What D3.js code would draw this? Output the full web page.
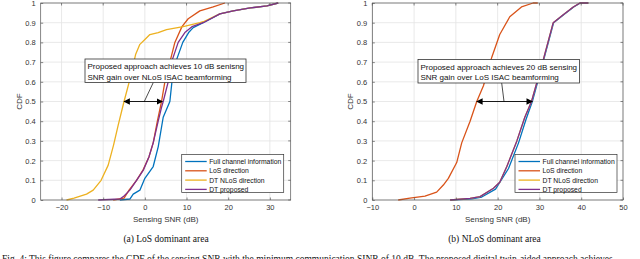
<!DOCTYPE html>
<html>
<head>
<meta charset="utf-8">
<script src="https://cdn.jsdelivr.net/npm/d3@7"></script>
<style>
  body { margin: 0; background: #fff; }
  svg { display: block; font-family: "Liberation Sans", Arial, sans-serif; }
</style>
</head>
<body>
<div id="chart"></div>
<script>
// series names + colours (MATLAB default order)
const seriesNames = ["Full channel information", "LoS direction", "DT NLoS direction", "DT proposed"];
const seriesColors = ["#0072BD", "#D95319", "#EDB120", "#7E2F8E"];

const yTicks = [0, 0.1, 0.2, 0.3, 0.4, 0.5, 0.6, 0.7, 0.8, 0.9, 1];
const xTicksA = [-20, -10, 0, 10, 20, 30];
const xTicksB = [-10, 0, 10, 20, 30, 40, 50];

// (a) LoS dominant area: [SNR dB, CDF]
const fullA = [[-6,0],[-3.6,0.005],[-2.8,0.03],[-1.2,0.05],[0,0.11],[2,0.17],[3.2,0.27],[4.4,0.42],[6,0.5],[6.5,0.6],[7.4,0.7],[9.1,0.8],[10.5,0.85],[11.6,0.875],[14,0.9],[18,0.945],[21.2,0.96],[25.3,0.975],[29.3,0.985],[32,1]];
const losA = [[-7.6,0],[-5,0.01],[-3.8,0.05],[-2,0.1],[-0.5,0.15],[1,0.22],[2,0.29],[3,0.4],[4,0.5],[4.8,0.6],[6,0.7],[7.2,0.8],[8.9,0.88],[10.4,0.92],[13.2,0.96],[16.4,0.98],[19.2,1]];
const nlosA = [[-18.8,0],[-17,0.01],[-14,0.03],[-12.4,0.05],[-10.5,0.1],[-8.8,0.177],[-7.5,0.28],[-6.4,0.38],[-5,0.5],[-3.5,0.62],[-2.2,0.74],[-1.2,0.79],[0,0.815],[1.2,0.84],[3.2,0.85],[5.2,0.865],[9.2,0.88],[13.2,0.9],[14,0.905],[18,0.945],[21.2,0.96],[25.3,0.975],[29.3,0.985],[32,1]];
const dtA = [[-11.2,0],[-6,0.005],[-5,0.02],[-3.6,0.05],[-2,0.1],[-0.4,0.15],[1,0.22],[2,0.29],[3.2,0.4],[4,0.47],[4.4,0.5],[5.6,0.6],[6.4,0.7],[8,0.8],[9.6,0.85],[11.3,0.88],[14,0.9],[18,0.945],[21.2,0.96],[25.3,0.975],[29.3,0.985],[32,1]];

// (b) NLoS dominant area
const fullB = [[8.8,0],[13.8,0.006],[16.2,0.015],[19.5,0.055],[22.6,0.16],[25,0.29],[26.8,0.41],[28.3,0.5],[31,0.71],[33.4,0.9],[35.8,0.94],[38.2,0.98],[39.8,1],[41.7,1]];
const losB = [[-3.8,0],[-1,0.01],[2.6,0.02],[5.4,0.04],[7,0.076],[8.2,0.11],[10.2,0.19],[11.4,0.29],[13.4,0.4],[15,0.5],[16.6,0.58],[18.6,0.725],[20.5,0.84],[22.9,0.93],[25.7,0.98],[28.5,1],[29.6,1]];
const nlosB = [[8.6,0],[13.4,0.008],[15.8,0.017],[19,0.06],[20.5,0.09],[22.2,0.17],[24.6,0.3],[26.5,0.42],[28.1,0.5],[30.9,0.71],[33.3,0.9],[35.7,0.94],[38.1,0.98],[39.7,1],[41.7,1]];
const dtB = [[8.6,0],[13.4,0.008],[15.8,0.017],[19,0.06],[20.5,0.09],[22.2,0.17],[24.6,0.3],[26.5,0.42],[28.1,0.5],[30.9,0.71],[33.3,0.9],[35.7,0.94],[38.1,0.98],[39.7,1],[41.7,1]];

// double arrows at CDF = 0.5
const arrowA = [-5, 4.2];
const arrowB = [15, 28.3];

const noteA = ["Proposed approach achieves 10 dB senisng", "SNR gain over NLoS ISAC beamforming"];
const noteB = ["Proposed approach achieves 20 dB sensing", "SNR gain over LoS ISAC beamforming"];

const W = 640, H = 259;
const svg = d3.select("#chart").append("svg").attr("width", W).attr("height", H);

const defs = svg.append("defs");
["start", "end"].forEach(k => {
  defs.append("marker")
    .attr("id", "arr-" + k)
    .attr("viewBox", "0 0 10 10")
    .attr("refX", k === "end" ? 9 : 1).attr("refY", 5)
    .attr("markerWidth", 6.5).attr("markerHeight", 6.5)
    .attr("markerUnits", "userSpaceOnUse")
    .attr("orient", "auto")
    .append("path")
    .attr("d", k === "end" ? "M0,0 L10,5 L0,10 Z" : "M10,0 L0,5 L10,10 Z")
    .attr("fill", "#000");
});

function drawPanel(opt) {
  const x = d3.scaleLinear().domain(opt.xDomain).range([opt.left, opt.right]);
  const y = d3.scaleLinear().domain([0, 1]).range([200, 3]);
  const g = svg.append("g");

  // grid
  g.selectAll(".gx").data(opt.xTicks).enter().append("line")
    .attr("x1", d => x(d)).attr("x2", d => x(d))
    .attr("y1", y(0)).attr("y2", y(1))
    .attr("stroke", "#e3e3e3").attr("stroke-width", 0.8);
  g.selectAll(".gy").data(yTicks).enter().append("line")
    .attr("x1", opt.left).attr("x2", opt.right)
    .attr("y1", d => y(d)).attr("y2", d => y(d))
    .attr("stroke", "#e3e3e3").attr("stroke-width", 0.8);

  // curves
  const line = d3.line().x(d => x(d[0])).y(d => y(d[1]));
  opt.series.forEach((s, i) => {
    g.append("path").datum(s)
      .attr("d", line)
      .attr("fill", "none")
      .attr("stroke", seriesColors[i])
      .attr("stroke-width", 1.3)
      .attr("stroke-linejoin", "round");
  });

  // box + ticks
  g.append("rect")
    .attr("x", opt.left).attr("y", y(1))
    .attr("width", opt.right - opt.left).attr("height", y(0) - y(1))
    .attr("fill", "none").attr("stroke", "#555").attr("stroke-width", 0.7);

  const axB = d3.axisBottom(x).tickValues(opt.xTicks).tickSizeInner(-2.5).tickSizeOuter(0).tickPadding(5);
  const axL = d3.axisLeft(y).tickValues(yTicks).tickFormat(d3.format("~g")).tickSizeInner(-2.5).tickSizeOuter(0).tickPadding(5);
  const gb = g.append("g").attr("transform", `translate(0,${y(0)})`).call(axB);
  const gl = g.append("g").attr("transform", `translate(${opt.left},0)`).call(axL);
  [gb, gl].forEach(a => {
    a.select(".domain").remove();
    a.selectAll("line").attr("stroke", "#555").attr("stroke-width", 0.7);
    a.selectAll("text").attr("fill", "#333").style("font-size", "7.5px")
      .style("font-family", "'Liberation Sans', Arial, sans-serif");
  });
  // mirrored ticks on top and right
  g.selectAll(".tt").data(opt.xTicks).enter().append("line")
    .attr("x1", d => x(d)).attr("x2", d => x(d))
    .attr("y1", y(1)).attr("y2", y(1) + 2.5)
    .attr("stroke", "#555").attr("stroke-width", 0.7);
  g.selectAll(".tr").data(yTicks).enter().append("line")
    .attr("x1", opt.right).attr("x2", opt.right - 2.5)
    .attr("y1", d => y(d)).attr("y2", d => y(d))
    .attr("stroke", "#555").attr("stroke-width", 0.7);

  // axis labels
  g.append("text")
    .attr("x", (opt.left + opt.right) / 2).attr("y", 222)
    .attr("text-anchor", "middle").attr("fill", "#333")
    .style("font-size", "8px").text("Sensing SNR (dB)");
  g.append("text")
    .attr("transform", `translate(${opt.left - 19},${y(0.5)}) rotate(-90)`)
    .attr("text-anchor", "middle").attr("fill", "#333")
    .style("font-size", "8px").text("CDF");

  // annotation
  const ay = y(0.5);
  g.append("line")
    .attr("x1", x(opt.arrow[0])).attr("x2", x(opt.arrow[1]))
    .attr("y1", ay).attr("y2", ay)
    .attr("stroke", "#000").attr("stroke-width", 0.9)
    .attr("marker-start", "url(#arr-start)")
    .attr("marker-end", "url(#arr-end)");
  g.append("line")
    .attr("x1", opt.note.px).attr("y1", opt.note.y1)
    .attr("x2", opt.note.tx).attr("y2", ay)
    .attr("stroke", "#000").attr("stroke-width", 0.7);
  g.append("rect")
    .attr("x", opt.note.x).attr("y", opt.note.y1 - 23.5)
    .attr("width", opt.note.w).attr("height", 23.5)
    .attr("fill", "#fff").attr("stroke", "#333").attr("stroke-width", 0.8);
  opt.note.text.forEach((t, i) => {
    g.append("text")
      .attr("x", opt.note.x + 2.5).attr("y", opt.note.y1 - 13.5 + i * 10.5)
      .attr("fill", "#111").style("font-size", "8px").text(t);
  });

  // legend
  const lg = g.append("g").attr("transform", `translate(${opt.legendX},154.5)`);
  lg.append("rect").attr("width", 102).attr("height", 38)
    .attr("fill", "#fff").attr("stroke", "#333").attr("stroke-width", 0.7);
  seriesNames.forEach((n, i) => {
    const yy = 7 + i * 9.3;
    lg.append("line").attr("x1", 3.5).attr("x2", 25).attr("y1", yy).attr("y2", yy)
      .attr("stroke", seriesColors[i]).attr("stroke-width", 1.3);
    lg.append("text").attr("x", 27.5).attr("y", yy + 2.4)
      .attr("fill", "#111").style("font-size", "6.8px").text(n);
  });

  // caption
  svg.append("text")
    .attr("x", opt.capX).attr("y", 242)
    .attr("text-anchor", "middle")
    .style("font-family", "'Liberation Serif', 'Times New Roman', serif")
    .style("font-size", "9.5px").attr("fill", "#111")
    .text(opt.caption);
}

drawPanel({
  xDomain: [-25, 35], left: 40.7, right: 290.7, xTicks: xTicksA,
  series: [fullA, losA, nlosA, dtA], arrow: arrowA,
  note: { x: 85, y1: 82.5, w: 161, px: 153.3, tx: 144.3, text: noteA },
  legendX: 181.7, capX: 166, caption: "(a) LoS dominant area"
});
drawPanel({
  xDomain: [-10, 50], left: 372.3, right: 623, xTicks: xTicksB,
  series: [fullB, losB, nlosB, dtB], arrow: arrowB,
  note: { x: 418, y1: 83, w: 161.5, px: 501.7, tx: 504, text: noteB },
  legendX: 515, capX: 494.5, caption: "(b) NLoS dominant area"
});

// figure caption, cut off by the bottom edge as in the source image
svg.append("text")
  .attr("x", 2).attr("y", 262)
  .style("font-family", "'Liberation Serif', 'Times New Roman', serif")
  .style("font-size", "9.5px").attr("fill", "#111")
  .text("Fig. 4:  This figure compares the CDF of the sensing SNR with the minimum communication SINR of 10 dB. The proposed digital twin-aided approach achieves");
</script>
</body>
</html>
